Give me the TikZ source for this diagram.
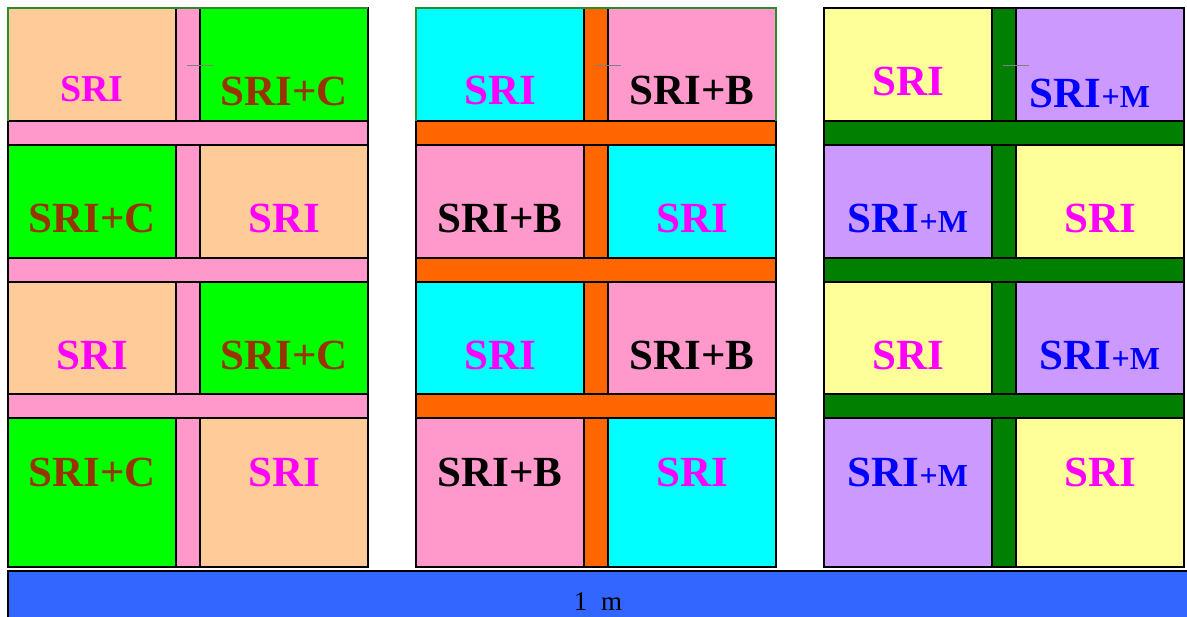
\documentclass[tikz,border=0pt]{standalone}
\usepackage{fontspec}
\setmainfont{Liberation Serif}
\definecolor{peach}{HTML}{FFCC99}
\definecolor{lime}{HTML}{00FF00}
\definecolor{pinkc}{HTML}{FF99CC}
\definecolor{cyanc}{HTML}{00FFFF}
\definecolor{orangec}{HTML}{FF6600}
\definecolor{yellowc}{HTML}{FFFF99}
\definecolor{lavender}{HTML}{CC99FF}
\definecolor{darkgreen}{HTML}{007F00}
\definecolor{barblue}{HTML}{3366FF}
\definecolor{magentac}{HTML}{FF00FF}
\definecolor{brownc}{HTML}{993300}
\definecolor{bluec}{HTML}{0000FF}
\definecolor{edgegreen}{HTML}{2E8B2E}
\begin{document}
\begin{tikzpicture}[x=1pt,y=-1pt,
  cell/.style={draw=black,line width=1.2pt},
  lbl/.style={font=\bfseries\fontsize{43}{43}\selectfont, anchor=base, inner sep=0pt},
  sri/.style={lbl, text=magentac},
  sric/.style={lbl, text=brownc},
  srib/.style={lbl, text=black},
  srim/.style={lbl, text=bluec},
  tick/.style={draw=gray, line width=0.6pt}]
\useasboundingbox (0,0) rectangle (1187,617);
% blocks: x0 / colour A / colour B / path colour / id
\foreach \xo/\ca/\cb/\cp/\id in {8/peach/lime/pinkc/a, 416/cyanc/pinkc/orangec/b, 824/yellowc/lavender/darkgreen/c}{
  \path[cell, fill=\cp] (\xo+168,8) rectangle (\xo+192,567);
  \foreach \ya/\yb/\l/\r in {8/121/\ca/\cb, 145/258/\cb/\ca, 282/394/\ca/\cb, 418/567/\cb/\ca}{
    \path[cell, fill=\l] (\xo,\ya) rectangle (\xo+168,\yb);
    \path[cell, fill=\r] (\xo+192,\ya) rectangle (\xo+360,\yb);
  }
  \foreach \ya/\yb in {121/145, 258/282, 394/418}{
    \path[cell, fill=\cp] (\xo,\ya) rectangle (\xo+360,\yb);
  }
  \coordinate (t1\id) at (\xo+179,65);
  \coordinate (t2\id) at (\xo+205,65);
  \draw[tick] (t1\id) -- (t2\id);
}
% green top/left edges of first two blocks
\draw[edgegreen, line width=1.2pt] (8,121) -- (8,8) -- (368,8);
\draw[edgegreen, line width=1.2pt] (416,121) -- (416,8) -- (776,8) -- (776,121);
% block 1 labels
\node[sri, font=\bfseries\fontsize{38}{38}\selectfont] (a11) at (92,102) {SRI};
\node[sric] (a12) at (284,106) {SRI+C};
\node[sric] (a21) at (92,233) {SRI+C};
\node[sri] (a22) at (284,233) {SRI};
\node[sri] (a31) at (92,370) {SRI};
\node[sric] (a32) at (284,370) {SRI+C};
\node[sric] (a41) at (92,487) {SRI+C};
\node[sri] (a42) at (284,487) {SRI};
% block 2 labels
\node[sri] (b11) at (500,105) {SRI};
\node[srib] (b12) at (692,105) {SRI+B};
\node[srib] (b21) at (500,233) {SRI+B};
\node[sri] (b22) at (692,233) {SRI};
\node[sri] (b31) at (500,370) {SRI};
\node[srib] (b32) at (692,370) {SRI+B};
\node[srib] (b41) at (500,487) {SRI+B};
\node[sri] (b42) at (692,487) {SRI};
% block 3 labels
\newcommand\smallm{{\fontsize{32}{32}\selectfont +M}}
\node[sri] (c11) at (908,96) {SRI};
\node[srim] (c12) at (1090,108) {SRI\smallm};
\node[srim] (c21) at (908,233) {SRI\smallm};
\node[sri] (c22) at (1100,233) {SRI};
\node[sri] (c31) at (908,370) {SRI};
\node[srim] (c32) at (1100,370) {SRI\smallm};
\node[srim] (c41) at (908,487) {SRI\smallm};
\node[sri] (c42) at (1100,487) {SRI};
% bottom bar
\path[cell, fill=barblue] (8,571) rectangle (1195,625);
\node[anchor=base, inner sep=0pt, font=\fontsize{27}{27}\selectfont] (bar) at (598,610) {1\hspace{14pt}m};
\end{tikzpicture}
\end{document}
